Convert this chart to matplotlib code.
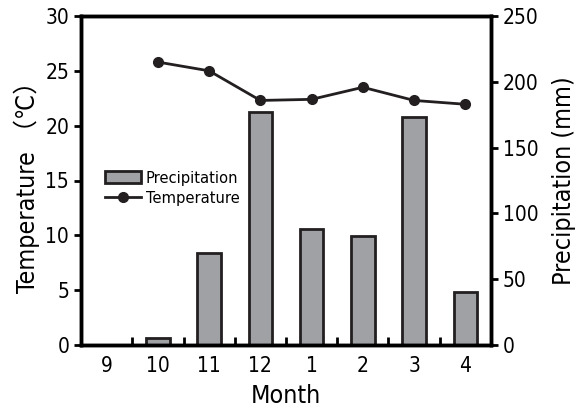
import matplotlib
matplotlib.use("Agg")
from matplotlib import pyplot as plt
import numpy as np

months = ["9", "10", "11", "12", "1", "2", "3", "4"]
precipitation = [0, 5, 70, 177, 88.5, 82.5, 173.5, 40]
temperature = [None, 25.8, 25.0, 22.3, 22.4, 23.5, 22.3, 21.95]

plt.rcParams['font.family'] = ['DejaVu Sans', 'Noto Sans CJK JP']
plt.rcParams['font.stretch'] = 'condensed'

fig = plt.figure(figsize=(5.86, 4.09), dpi=100)
ax = fig.add_axes([81/586, 1-345/409, 410/586, 329/409])
ax2 = ax.twinx()

x = np.arange(len(months))
bars = ax2.bar(x, precipitation, width=0.46, color='#a0a1a5', edgecolor='#231f20',
               linewidth=2, label='Precipitation', zorder=2)
tx = [i for i, t in enumerate(temperature) if t is not None]
ty = [t for t in temperature if t is not None]
line, = ax.plot(tx, ty, color='#231f20', marker='o', markersize=7, linewidth=2,
                label='Temperature', zorder=3)
ax.set_zorder(ax2.get_zorder() + 1)
ax.patch.set_visible(False)

ax.set_xlim(-0.5, 7.5)
ax.set_ylim(0, 30)
ax2.set_ylim(0, 250)
ax.set_yticks(range(0, 31, 5))
ax2.set_yticks(range(0, 251, 50))
ax.set_xticks(x)
ax.set_xticklabels(months)
ax.set_xticks(np.arange(0.5, 7.5, 1), minor=True)
ax.tick_params(axis='x', which='major', length=0, labelsize=15, pad=8)
ax.tick_params(axis='x', which='minor', direction='in', length=6, width=2)
ax.tick_params(axis='y', labelsize=15, width=2, length=5)
ax2.tick_params(axis='y', labelsize=15, width=2, length=5)

for a in (ax, ax2):
    for s in a.spines.values():
        s.set_linewidth(2.5)
        s.set_color('black')

ax.set_xlabel('Month', fontsize=18, labelpad=6)
ax.set_ylabel('Temperature （℃）', fontsize=18)
ax2.set_ylabel('Precipitation (mm)', fontsize=18, labelpad=10)

ax.legend([bars, line], ['Precipitation', 'Temperature'], loc='upper left',
          bbox_to_anchor=(0.03, 0.565), frameon=False, fontsize=11.8,
          handlelength=2.2, handletextpad=0.3, borderpad=0.2, labelspacing=0.3)

fig.savefig('out.png', dpi=100)
